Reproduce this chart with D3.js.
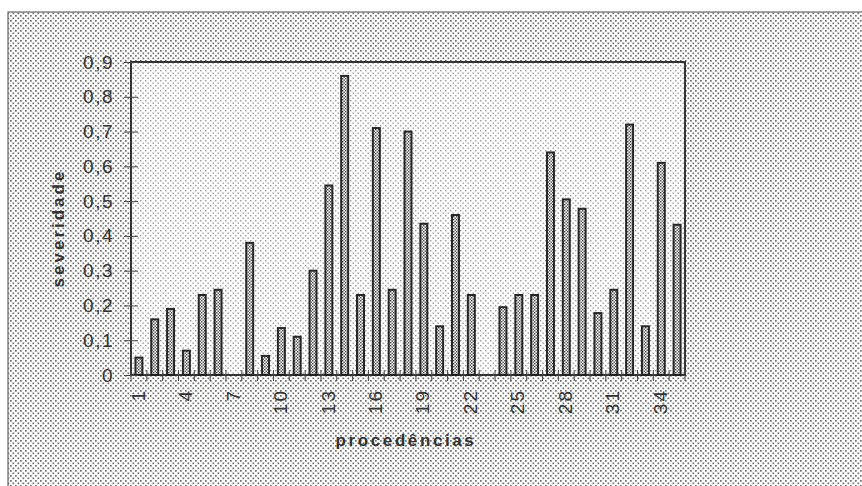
<!DOCTYPE html>
<html lang="pt">
<head>
<meta charset="utf-8">
<title>severidade por procedência</title>
<script src="https://cdn.jsdelivr.net/npm/d3@7/dist/d3.min.js"></script>
<style>
  body { margin: 0; background: #fff; }
  svg text { font-family: "Liberation Sans", Arial, sans-serif; fill: #333; }
</style>
</head>
<body>
<script>
// data
var procedencias = d3.range(1, 36);
var severidade = [0.05, 0.16, 0.19, 0.07, 0.23, 0.245, 0, 0.38, 0.055, 0.135,
                  0.11, 0.30, 0.545, 0.86, 0.23, 0.71, 0.245, 0.70, 0.435, 0.14,
                  0.46, 0.23, 0, 0.195, 0.23, 0.23, 0.64, 0.505, 0.478, 0.178,
                  0.245, 0.72, 0.14, 0.61, 0.432];
var yTicks = [0, 0.1, 0.2, 0.3, 0.4, 0.5, 0.6, 0.7, 0.8, 0.9];
var xTicks = [1, 4, 7, 10, 13, 16, 19, 22, 25, 28, 31, 34];

var W = 862, H = 486;
var plot = {left: 131, top: 62, right: 685, bottom: 375};

var svg = d3.select("body").append("svg").attr("width", W).attr("height", H);

// halftone looking patterns
var defs = svg.append("defs");
function dots(id, size, color, r) {
  var p = defs.append("pattern").attr("id", id)
    .attr("patternUnits", "userSpaceOnUse").attr("width", size).attr("height", size);
  p.append("rect").attr("width", size).attr("height", size).attr("fill", "#fff");
  p.append("rect").attr("x", 0).attr("y", 0).attr("width", r).attr("height", r).attr("fill", color);
  p.append("rect").attr("x", size / 2).attr("y", size / 2).attr("width", r).attr("height", r).attr("fill", color);
}
dots("bgDots", 5, "#6e6e6e", 1.7);
dots("plotDots", 5, "#9a9a9a", 1.4);
dots("barDots", 3, "#444", 1.4);

svg.append("rect").attr("width", W).attr("height", H).attr("fill", "#fff");
svg.append("rect").attr("x", 8).attr("y", 12).attr("width", W + 20).attr("height", H + 20)
  .attr("fill", "url(#bgDots)").attr("stroke", "#666").attr("stroke-width", 1.2);

var x = d3.scaleBand().domain(procedencias).range([plot.left, plot.right]).paddingInner(0.56).paddingOuter(0.28);
var y = d3.scaleLinear().domain([0, 0.9]).range([plot.bottom, plot.top]);

svg.append("rect").attr("x", plot.left).attr("y", plot.top)
  .attr("width", plot.right - plot.left).attr("height", plot.bottom - plot.top)
  .attr("fill", "url(#plotDots)");

// bars
svg.selectAll(".bar").data(severidade).enter().append("rect")
  .attr("class", "bar")
  .attr("x", function(d, i) { return x(procedencias[i]); })
  .attr("width", x.bandwidth())
  .attr("y", function(d) { return y(d); })
  .attr("height", function(d) { return y(0) - y(d); })
  .attr("fill", "url(#barDots)")
  .attr("stroke", "#262626")
  .attr("stroke-width", 2)
  .style("display", function(d) { return d > 0 ? null : "none"; });

// frame
svg.append("rect").attr("x", plot.left).attr("y", plot.top)
  .attr("width", plot.right - plot.left).attr("height", plot.bottom - plot.top)
  .attr("fill", "none").attr("stroke", "#222").attr("stroke-width", 1.8);

// y axis
var yAxis = d3.axisLeft(y).tickValues(yTicks).tickSize(7).tickPadding(10)
  .tickFormat(function(d) { return d === 0 ? "0" : d3.format(".1f")(d).replace(".", ","); });
var gy = svg.append("g").attr("transform", "translate(" + plot.left + ",0)").call(yAxis);
gy.select(".domain").remove();
gy.selectAll(".tick line").attr("stroke", "#444").attr("x2", 7).attr("x1", -7);
gy.selectAll(".tick text").style("font-size", "19px").style("letter-spacing", "1.5px").attr("fill", "#3a3a3a");

// x axis: a tick between every category, labels every third
var xAxis = d3.axisBottom(x).tickValues(xTicks).tickSize(0).tickPadding(0);
var gx = svg.append("g").attr("transform", "translate(0," + plot.bottom + ")").call(xAxis);
gx.select(".domain").remove();
gx.selectAll(".tick text")
  .attr("transform", "translate(-1,14) rotate(-90)")
  .attr("text-anchor", "end").attr("dy", "0.35em").attr("y", 0).attr("x", 0)
  .style("font-size", "19px").style("letter-spacing", "2px").attr("fill", "#3a3a3a");
var step = x.step();
svg.append("g").selectAll("line").data(d3.range(procedencias.length + 1)).enter().append("line")
  .attr("x1", function(i) { return plot.left + i * step; })
  .attr("x2", function(i) { return plot.left + i * step; })
  .attr("y1", plot.bottom - 5).attr("y2", plot.bottom + 6)
  .attr("stroke", "#444").attr("stroke-width", 1);

// titles
svg.append("text").attr("x", 406).attr("y", 446).attr("text-anchor", "middle")
  .style("font-size", "17px").style("font-weight", "bold").style("letter-spacing", "2.6px")
  .text("procedências");
svg.append("text").attr("transform", "translate(64,228) rotate(-90)").attr("text-anchor", "middle")
  .style("font-size", "17px").style("font-weight", "bold").style("letter-spacing", "3px")
  .text("severidade");
</script>
</body>
</html>
